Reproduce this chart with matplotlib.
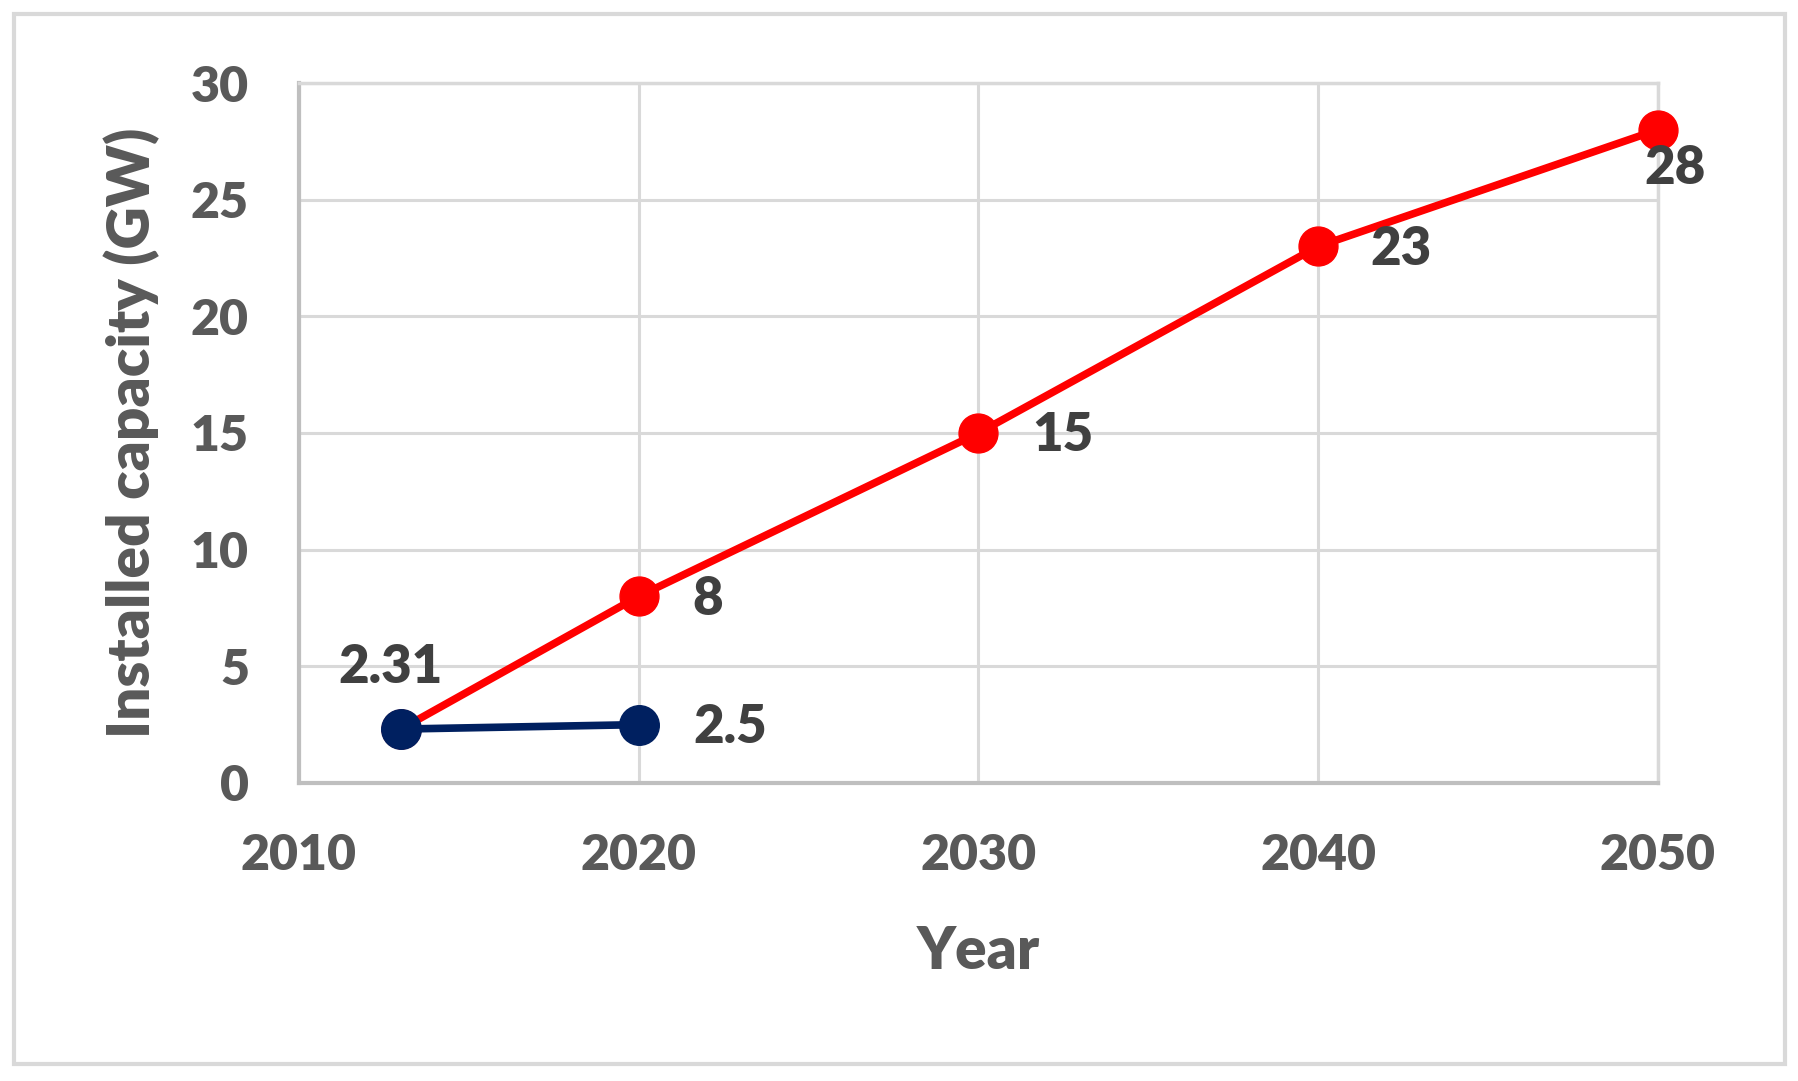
import matplotlib.pyplot as plt
from matplotlib.patches import Rectangle

plt.rcParams['font.family'] = ['Lato', 'DejaVu Sans']

# data
years_plan = [2013, 2020, 2030, 2040, 2050]
capacity_plan = [2.31, 8, 15, 23, 28]
years_actual = [2013, 2020]
capacity_actual = [2.31, 2.5]

x_ticks = [2010, 2020, 2030, 2040, 2050]
y_ticks = [0, 5, 10, 15, 20, 25, 30]

# label offsets in pixels (dx, dy), tied to each point
plan_offsets = [(-10, 62), (69, -3), (84, -3), (83, -3), (17, -39)]
actual_offsets = [None, (91, -3)]

W = 'heavy'

fig = plt.figure(figsize=(17.99, 10.81), dpi=100)
ax = fig.add_axes([0.1662, 0.2757, 0.9216 - 0.1662, 0.9232 - 0.2757])

# outer frame of the chart
fig.patches.append(Rectangle((14 / 1799, 17 / 1081), 1771 / 1799, 1050 / 1081,
                             transform=fig.transFigure, fill=False,
                             edgecolor='#d9d9d9', linewidth=3))

ax.plot(years_plan, capacity_plan, color='#ff0000', linewidth=5.5,
        marker='o', markersize=28, zorder=3, clip_on=False)
ax.plot(years_actual, capacity_actual, color='#002060', linewidth=5.5,
        marker='o', markersize=28.5, zorder=4, clip_on=False)

for x, y, off in zip(years_plan, capacity_plan, plan_offsets):
    ax.annotate(f"{y:g}", (x, y), xytext=off, textcoords='offset pixels',
                ha='center', va='center', fontsize=38, fontweight=W,
                color='#404040', zorder=5)
for x, y, off in zip(years_actual, capacity_actual, actual_offsets):
    if off is None:
        continue
    ax.annotate(f"{y:g}", (x, y), xytext=off, textcoords='offset pixels',
                ha='center', va='center', fontsize=38, fontweight=W,
                color='#404040', zorder=5)

ax.set_xlim(2010, 2050)
ax.set_ylim(0, 30)
ax.set_xticks(x_ticks)
ax.set_yticks(y_ticks)
ax.grid(True, color='#d9d9d9', linewidth=2.2, zorder=0)
ax.set_axisbelow(True)

for side in ['top', 'right']:
    ax.spines[side].set_color('#d9d9d9')
    ax.spines[side].set_linewidth(2.5)
for side in ['left', 'bottom']:
    ax.spines[side].set_color('#bfbfbf')
    ax.spines[side].set_linewidth(3)

ax.tick_params(axis='both', length=0, labelsize=36, labelcolor='#595959')
ax.tick_params(axis='y', pad=36)
ax.tick_params(axis='x', pad=36)
for lbl in ax.get_xticklabels() + ax.get_yticklabels():
    lbl.set_fontweight(W)

ax.set_xlabel("Year", fontsize=42, fontweight=W, color='#595959', labelpad=34)
ax.set_ylabel("Installed capacity (GW)", fontsize=42, fontweight=W,
              color='#595959', labelpad=22)

fig.savefig("out.png", dpi=100)
